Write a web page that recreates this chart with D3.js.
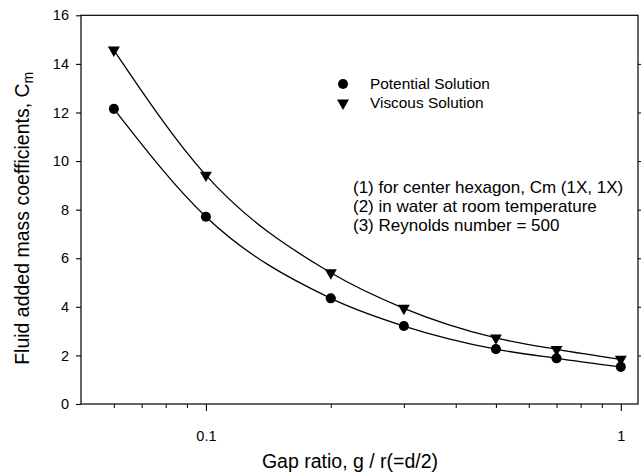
<!DOCTYPE html>
<meta charset="utf-8">
<script src="https://d3js.org/d3.v7.min.js"></script>
<style>
  body { margin: 0; background: #fff; }
  text { font-family: "Liberation Sans", Arial, Helvetica, sans-serif; fill: #000; }
</style>
<div id="chart"></div>
<script>

// data
var gapRatio  = [0.06, 0.1, 0.2, 0.3, 0.5, 0.7, 1.0];
var potential = [12.15, 7.71, 4.35, 3.21, 2.26, 1.88, 1.53];
var viscous   = [14.57, 9.42, 5.40, 3.94, 2.72, 2.25, 1.84];

var yTicks = [0, 2, 4, 6, 8, 10, 12, 14, 16];
var xMajor = [0.1, 1];
var xMinor = [0.06, 0.07, 0.08, 0.09, 0.2, 0.3, 0.4, 0.5, 0.6, 0.7, 0.8, 0.9];

var notes = [
  "(1) for center hexagon, Cm (1X, 1X)",
  "(2) in water at room temperature",
  "(3) Reynolds number = 500"
];

var W = 642, H = 472;
var margin = {top: 15.3, right: 4, bottom: 68, left: 81},
    width = W - margin.left - margin.right,
    height = H - margin.top - margin.bottom;

var svg = d3.select("#chart")
  .append("svg")
    .attr("width", W)
    .attr("height", H)
  .append("g")
    .attr("transform", "translate(" + margin.left + "," + margin.top + ")");

var x = d3.scaleLog()
  .domain([0.05, 1.1])
  .range([0, width]);

var y = d3.scaleLinear()
  .domain([0, 16])
  .range([height, 0]);

// frame
svg.append("rect")
  .attr("width", width)
  .attr("height", height)
  .attr("fill", "none")
  .attr("stroke", "#000")
  .attr("stroke-width", 1.2);

// left axis
var yAxis = svg.append("g")
  .call(d3.axisLeft(y).tickValues(yTicks).tickSize(5).tickPadding(7).tickFormat(d3.format("d")));
yAxis.select(".domain").remove();
yAxis.selectAll("text").style("font-size", "14.5px");
yAxis.selectAll("line").attr("stroke-width", 1.1);

// right ticks
svg.append("g")
  .attr("transform", "translate(" + width + ",0)")
  .call(d3.axisRight(y).tickValues(yTicks.slice(1, -1)).tickSize(3).tickFormat(""))
  .call(function(g) { g.select(".domain").remove(); });

// bottom axis, major ticks with labels
var xAxis = svg.append("g")
  .attr("transform", "translate(0," + height + ")")
  .call(d3.axisBottom(x).tickValues(xMajor).tickSize(7).tickPadding(20).tickFormat(d3.format("")));
xAxis.select(".domain").remove();
xAxis.selectAll("text").style("font-size", "14.5px");
xAxis.selectAll("line").attr("stroke-width", 1.1);

// minor ticks
svg.append("g")
  .attr("transform", "translate(0," + height + ")")
  .call(d3.axisBottom(x).tickValues(xMinor).tickSize(4).tickFormat(""))
  .call(function(g) { g.select(".domain").remove(); });

// axis titles
svg.append("text")
  .attr("x", width / 2 - 9.5)
  .attr("y", height + 64)
  .style("font-size", "19.5px")
  .style("text-anchor", "middle")
  .text("Gap ratio, g / r(=d/2)");

var yt = svg.append("text")
  .attr("transform", "rotate(-90)")
  .attr("x", -203)
  .attr("y", -52)
  .style("font-size", "19.5px")
  .style("text-anchor", "middle");
yt.append("tspan").text("Fluid added mass coefficients, C");
yt.append("tspan").attr("baseline-shift", "-25%").style("font-size", "14px").text("m");

// curves
var line = d3.line()
  .x(function(d) { return x(d[0]); })
  .y(function(d) { return y(d[1]); })
  .curve(d3.curveMonotoneX);

[potential, viscous].forEach(function(vals) {
  svg.append("path")
    .datum(d3.zip(gapRatio, vals))
    .attr("fill", "none")
    .attr("stroke", "#000")
    .attr("stroke-width", 1.3)
    .attr("d", line);
});

// markers
var symCircle = d3.symbol().type(d3.symbolCircle).size(80);
var symTri = d3.symbol().type(d3.symbolTriangle).size(62);

svg.selectAll(".pot")
  .data(d3.zip(gapRatio, potential))
  .enter().append("path")
    .attr("d", symCircle)
    .attr("fill", "#000")
    .attr("transform", function(d) { return "translate(" + x(d[0]) + "," + y(d[1]) + ")"; });

svg.selectAll(".vis")
  .data(d3.zip(gapRatio, viscous))
  .enter().append("path")
    .attr("d", symTri)
    .attr("fill", "#000")
    .attr("transform", function(d) { return "translate(" + x(d[0]) + "," + y(d[1]) + ") rotate(180)"; });

// legend
svg.append("path").attr("d", symCircle).attr("transform", "translate(262,68.7)");
svg.append("path").attr("d", symTri).attr("transform", "translate(262,87.7) rotate(180)");
svg.append("text").attr("x", 289).attr("y", 74).style("font-size", "15.4px").text("Potential Solution");
svg.append("text").attr("x", 289).attr("y", 93).style("font-size", "15.4px").text("Viscous Solution");

// notes
svg.selectAll(".note")
  .data(notes)
  .enter().append("text")
    .attr("x", 272)
    .attr("y", function(d, i) { return 177.5 + i * 19; })
    .style("font-size", "17px")
    .text(function(d) { return d; });

</script>
